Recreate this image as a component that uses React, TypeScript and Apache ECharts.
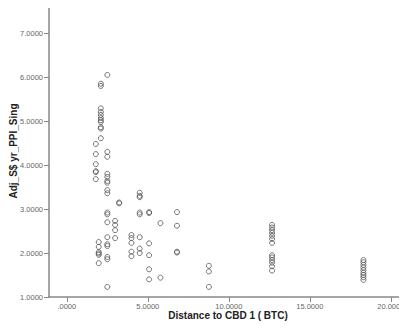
import React, { useEffect, useRef } from "react";
import * as echarts from "echarts";

// Distance to CBD (BTC) for each cluster of properties, with the
// adjusted yearly PPI values observed at that distance.
const distances = [1.79, 2.1, 1.97, 2.5, 2.98, 3.23, 3.99, 4.5, 5.08, 5.78, 6.8, 8.77, 12.67, 18.31];
const ppiValues: number[][] = [
  [4.48, 4.25, 4.02, 3.86, 3.84, 3.68],
  [5.85, 5.8, 5.29, 5.21, 5.14, 5.07, 5.02, 4.98, 4.86, 4.83, 4.61],
  [2.25, 2.14, 2.02, 1.99, 1.96, 1.77],
  [6.05, 4.3, 4.19, 3.8, 3.73, 3.64, 3.6, 3.43, 3.36, 2.92, 2.88, 2.7, 2.36, 2.2, 2.16, 1.91, 1.86, 1.23],
  [2.73, 2.64, 2.52, 2.34],
  [3.15, 3.13],
  [2.41, 2.34, 2.23, 2.03, 1.93],
  [3.37, 3.3, 3.27, 2.92, 2.88, 2.36, 2.1, 2.0],
  [2.93, 2.91, 2.22, 1.95, 1.63, 1.4],
  [2.68, 1.44],
  [2.93, 2.62, 2.03, 2.01],
  [1.71, 1.58, 1.23],
  [2.64, 2.58, 2.52, 2.46, 2.39, 2.32, 2.23, 1.95, 1.9, 1.84, 1.78, 1.7, 1.6],
  [1.84, 1.79, 1.73, 1.67, 1.61, 1.55, 1.5, 1.45, 1.39],
];

const xTicks = [0, 5, 10, 15, 20];
const yTicks = [1, 2, 3, 4, 5, 6, 7];

const fmt = (v: number) => {
  const s = v.toFixed(4);
  return s.startsWith("0.") ? s.slice(1) : s;
};

const FONT = "Liberation Sans, Arial, sans-serif";

export default function App() {
  const ref = useRef<HTMLDivElement>(null);

  useEffect(() => {
    if (!ref.current) return;
    const chart = echarts.init(ref.current, undefined, { renderer: "svg" });

    const points: number[][] = [];
    distances.forEach((d, i) => ppiValues[i].forEach((v) => points.push([d, v])));

    const labelStyle = { color: "#666", fontSize: 7.5, fontFamily: FONT };
    const titleStyle = { color: "#222", fontSize: 10, fontWeight: "bold", fontFamily: FONT };

    chart.setOption({
      animation: false,
      backgroundColor: "#fff",
      grid: { left: 49, right: 0, top: 5, bottom: 37, outerBoundsMode: "none", containLabel: false },
      xAxis: [
        {
          type: "value",
          min: -1.1,
          max: 21,
          name: "Distance to CBD 1 ( BTC)",
          nameLocation: "middle",
          nameGap: 13,
          nameMoveOverlap: false,
          nameTextStyle: titleStyle,
          axisLine: { lineStyle: { color: "#888", width: 1.5 } },
          axisTick: { customValues: xTicks, length: 5, lineStyle: { color: "#888" } },
          axisLabel: { customValues: xTicks, formatter: fmt, margin: 5, ...labelStyle },
          splitLine: { show: false },
        },
        {
          type: "value",
          position: "top",
          min: -1.1,
          max: 21,
          axisLine: { lineStyle: { color: "#aaa", width: 2 } },
          axisTick: { show: false },
          axisLabel: { show: false },
          splitLine: { show: false },
        },
      ],
      yAxis: {
        type: "value",
        min: 1,
        max: 7.64,
        name: "Adj_S$ yr_PPI_Sing",
        nameLocation: "middle",
        nameGap: 31,
        nameMoveOverlap: false,
        nameTextStyle: titleStyle,
        axisLine: { onZero: false, lineStyle: { color: "#888", width: 1.5 } },
        axisTick: { customValues: yTicks, length: 5, lineStyle: { color: "#888" } },
        axisLabel: { customValues: yTicks, formatter: fmt, margin: 6, ...labelStyle },
        splitLine: { show: false },
      },
      series: [
        {
          type: "scatter",
          xAxisIndex: 0,
          data: points,
          symbol: "circle",
          symbolSize: 5,
          itemStyle: { color: "rgba(255,255,255,0)", borderColor: "#555", borderWidth: 1 },
        },
      ],
    });

    return () => chart.dispose();
  }, []);

  return <div ref={ref} style={{ width: 407, height: 334, margin: -8 }} />;
}
